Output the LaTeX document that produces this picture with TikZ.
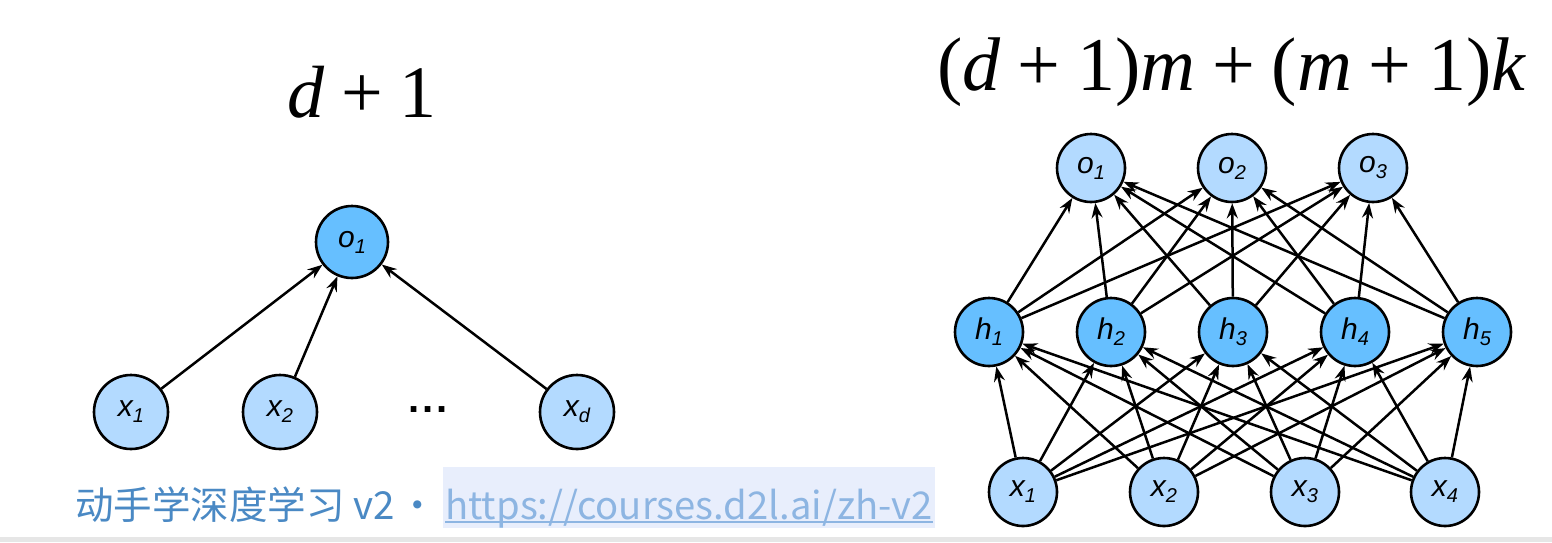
\documentclass[tikz,border=0pt]{standalone}
\usepackage{fontspec}
\setmainfont{Liberation Serif}
\newfontfamily\labfont{Liberation Sans}
\newfontfamily\cjk{Noto Sans CJK SC}
\usetikzlibrary{arrows.meta}
\definecolor{lightnode}{HTML}{B3DAFF}
\definecolor{darknode}{HTML}{66BFFF}
\definecolor{foot}{HTML}{4A89C4}
\definecolor{linkc}{HTML}{8DB5E2}
\definecolor{linkbg}{HTML}{E8EEFC}
\definecolor{barc}{HTML}{E6E6E6}
\newcommand{\lbl}[2]{{\labfont\itshape\fontsize{30}{30}\selectfont #1\raisebox{-6pt}{\fontsize{20}{20}\selectfont #2}}}
\newcommand{\pl}{\hspace{0.22em}+\hspace{0.22em}}
\begin{document}
\begin{tikzpicture}[x=1pt,y=-1pt,
  neuron/.style={circle, draw=black, line width=2.6pt, inner sep=0pt},
  inpl/.style={neuron, fill=lightnode, minimum size=74pt},
  outl/.style={neuron, fill=darknode, minimum size=72pt},
  inpr/.style={neuron, fill=lightnode, minimum size=68pt},
  hidr/.style={neuron, fill=darknode, minimum size=68pt},
  outr/.style={neuron, fill=lightnode, minimum size=68pt},
  conn/.style={-{Stealth[length=15pt,width=11pt,inset=5pt]}, line width=2.5pt},
  title/.style={anchor=base, inner sep=0pt}]
\useasboundingbox (0,0) rectangle (1552,542);
\fill[white] (0,0) rectangle (1552,542);
\fill[barc] (0,537) rectangle (1552,542);

% titles
\node[title, font=\fontsize{74}{74}\selectfont] (t1) at (362,117) {\textit{d}\pl 1};
\node[title, font=\fontsize{76}{76}\selectfont] (t2) at (1232,90) {(\textit{d}\pl 1)\textit{m}\pl(\textit{m}\pl 1)\textit{k}};

% left network
\node[outl] (lo) at (352,242) {\lbl{o}{1}};
\node[inpl] (lx1) at (131,412) {\lbl{x}{1}};
\node[inpl] (lx2) at (280,412) {\lbl{x}{2}};
\node[inpl] (lxd) at (577,412) {\lbl{x}{d}};
\node[inner sep=0pt] (dots) at (428,410) {\labfont\bfseries\fontsize{40}{40}\selectfont .\hspace{3pt}.\hspace{3pt}.};
\foreach \s in {lx1,lx2,lxd} \draw[conn] (\s) -- (lo);

% right network
\foreach \i/\x in {1/1091,2/1232,3/1373} \node[outr] (o\i) at (\x,168) {\lbl{o}{\i}};
\foreach \i/\x in {1/989,2/1111,3/1233,4/1355,5/1477} \node[hidr] (h\i) at (\x,332) {\lbl{h}{\i}};
\foreach \i/\x in {1/1023,2/1164,3/1305,4/1445} \node[inpr] (x\i) at (\x,492) {\lbl{x}{\i}};
\foreach \i in {1,...,4} \foreach \j in {1,...,5} \draw[conn] (x\i) -- (h\j);
\foreach \j in {1,...,5} \foreach \k in {1,2,3} \draw[conn] (h\j) -- (o\k);

% footer
\fill[linkbg] (443,467) rectangle (935,528);
\node[anchor=base west, inner sep=0pt, text=foot] (ft) at (75,519) {\cjk\fontsize{38.5}{38.5}\selectfont 动手学深度学习 v2\hspace{4pt}・};
\node[anchor=base west, inner sep=0pt, text=linkc] (link) at (445,519) {\cjk\fontsize{38.2}{38.2}\selectfont https://courses.d2l.ai/zh-v2};
\draw[linkc, line width=2pt] ([yshift=-3pt]link.base west) -- ([yshift=-3pt]link.base east);
\end{tikzpicture}
\end{document}
